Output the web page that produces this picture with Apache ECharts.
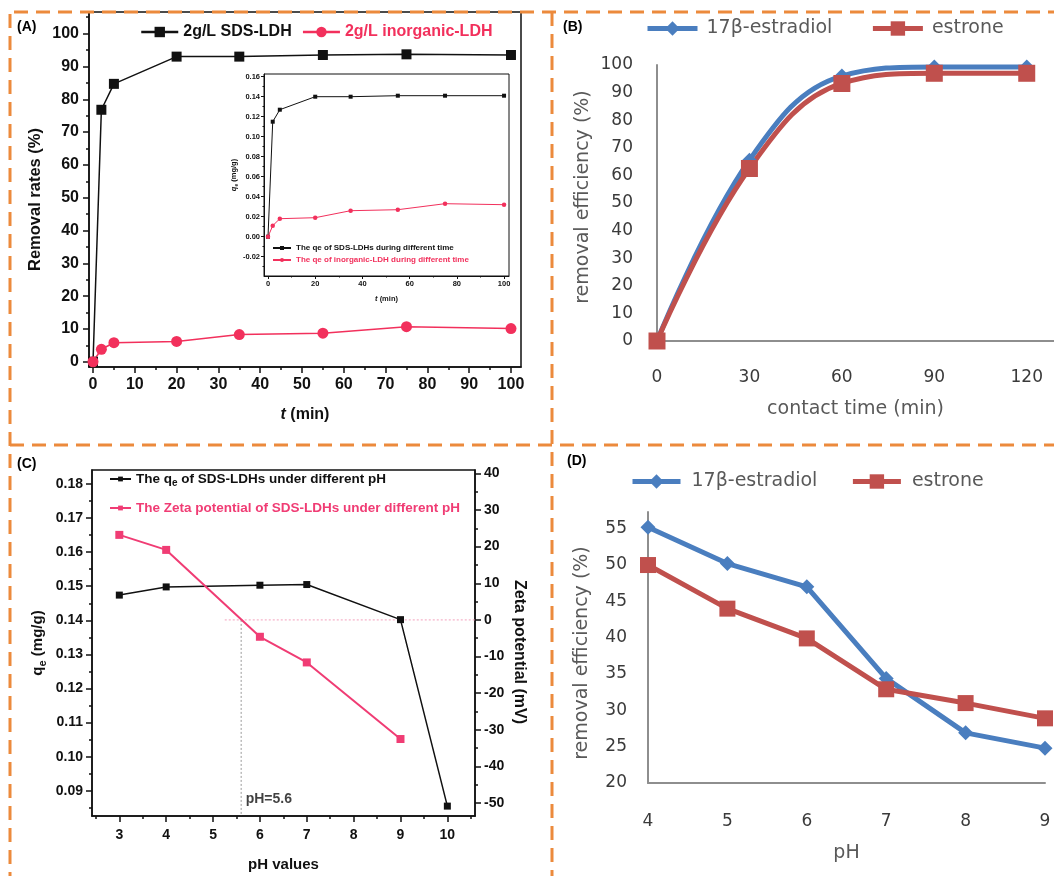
<!DOCTYPE html>
<html>
<head>
<meta charset="utf-8">
<title>LDH adsorption and estrogen removal</title>
<script src="https://cdn.jsdelivr.net/npm/echarts@6/dist/echarts.min.js"></script>
<style>
  html, body { margin: 0; padding: 0; background: #fff; }
  #main { width: 1054px; height: 876px; }
</style>
</head>
<body>
<div id="main"></div>
<script>
// (A) removal rate against time, inset qe against time
var timeA = [0, 2, 5, 20, 35, 55, 75, 100];
var removalSDS = [0, 76.8, 84.7, 93.0, 93.0, 93.5, 93.7, 93.5];
var removalInorg = [0, 3.8, 5.8, 6.2, 8.3, 8.7, 10.7, 10.1];
var qeSDS = [0, 0.115, 0.127, 0.140, 0.140, 0.141, 0.141, 0.141];
var qeInorg = [0, 0.011, 0.018, 0.019, 0.026, 0.027, 0.033, 0.032];

// (B) removal efficiency against contact time
var timeB = [0, 30, 60, 90, 120];
var estradiolB = [0, 65.5, 96, 99.3, 99.3];
var estroneB = [0, 62.5, 93.3, 97, 97];

// (C) qe and zeta potential against pH
var phC = [3, 4, 6, 7, 9, 10];
var qePH = [0.1474, 0.1498, 0.1503, 0.1505, 0.1402, 0.0855];
var phZeta = [3, 4, 6, 7, 9];
var zeta = [23.2, 19.1, -4.6, -11.6, -32.5];
var phMark = 5.6;

// (D) removal efficiency against pH
var phD = [4, 5, 6, 7, 8, 9];
var estradiolD = [55.2, 50.2, 47.0, 34.4, 26.9, 24.8];
var estroneD = [50.0, 44.0, 39.9, 32.9, 31.0, 28.9];

// tick labels
var ticksAx = [0, 10, 20, 30, 40, 50, 60, 70, 80, 90, 100];
var ticksAy = [0, 10, 20, 30, 40, 50, 60, 70, 80, 90, 100];
var ticksInX = [0, 20, 40, 60, 80, 100];
var ticksInY = [-0.02, 0, 0.02, 0.04, 0.06, 0.08, 0.10, 0.12, 0.14, 0.16];
var ticksBx = [0, 30, 60, 90, 120];
var ticksBy = [0, 10, 20, 30, 40, 50, 60, 70, 80, 90, 100];
var ticksCx = [3, 4, 5, 6, 7, 8, 9, 10];
var ticksCl = [0.09, 0.10, 0.11, 0.12, 0.13, 0.14, 0.15, 0.16, 0.17, 0.18];
var ticksCr = [-50, -40, -30, -20, -10, 0, 10, 20, 30, 40];
var ticksDx = [4, 5, 6, 7, 8, 9];
var ticksDy = [20, 25, 30, 35, 40, 45, 50, 55];

var INK = '#111111';
var PINK_A = '#f2305c';
var PINK_C = '#f03c74';
var BLUE = '#4a7ebf';
var RED = '#c0504d';
var GRAY_TXT = '#595959';
var ORANGE = '#ec8a3c';
var ARIAL = '"Liberation Sans", Arial, sans-serif';
var VERD = '"DejaVu Sans", Verdana, sans-serif';

function pairs(xs, ys) {
  return xs.map(function (x, i) { return [x, ys[i]]; });
}

function fix2(v) { return v.toFixed(2); }

// Origin style axis: black line, outward ticks, minor ticks, bold labels
function boxAxis(o) {
  return {
    type: 'value', gridIndex: o.grid, position: o.position,
    min: o.min, max: o.max, splitNumber: o.split,
    name: o.name, nameLocation: 'middle', nameGap: o.nameGap, nameRotate: o.nameRotate,
    nameTextStyle: {
      fontFamily: ARIAL, fontWeight: 'bold', fontSize: o.nameSize, color: INK,
      padding: o.namePad || 0, rich: o.rich
    },
    axisLine: { show: true, onZero: false, lineStyle: { color: INK, width: o.lw } },
    axisTick: { show: true, inside: false, length: o.tick, customValues: o.ticks, lineStyle: { color: INK, width: o.lw } },
    minorTick: { show: true, splitNumber: 2, length: o.tick / 2, lineStyle: { color: INK, width: o.lw } },
    axisLabel: {
      customValues: o.ticks, margin: o.margin, fontFamily: ARIAL, fontWeight: 'bold',
      fontSize: o.size, color: INK, formatter: o.fmt
    },
    splitLine: { show: false }
  };
}

// Excel style axis: grey line, no ticks
function sheetAxis(o) {
  return {
    type: 'value', gridIndex: o.grid, min: o.min, max: o.max,
    name: o.name, nameLocation: 'middle', nameGap: o.nameGap,
    nameTextStyle: { fontFamily: VERD, fontSize: 19, color: GRAY_TXT, padding: o.namePad || 0 },
    axisLine: { show: true, onZero: false, lineStyle: { color: '#8e8e8e', width: 2 } },
    axisTick: { show: false },
    axisLabel: { customValues: o.ticks, margin: o.margin, fontFamily: VERD, fontSize: 17, color: '#3a3a3a' },
    splitLine: { show: false }
  };
}

var richA = {
  i: { fontFamily: ARIAL, fontWeight: 'bold', fontStyle: 'italic', fontSize: 16, color: INK },
  n: { fontFamily: ARIAL, fontWeight: 'bold', fontSize: 16, color: INK }
};
var richIn = {
  i: { fontFamily: ARIAL, fontWeight: 'bold', fontStyle: 'italic', fontSize: 7.5, color: INK },
  s: { fontFamily: ARIAL, fontWeight: 'bold', fontSize: 5, color: INK, padding: [5, 0, 0, 0] },
  n: { fontFamily: ARIAL, fontWeight: 'bold', fontSize: 7.5, color: INK }
};
var richC = {
  n: { fontFamily: ARIAL, fontWeight: 'bold', fontSize: 15, color: INK },
  s: { fontFamily: ARIAL, fontWeight: 'bold', fontSize: 11, color: INK, padding: [10, 0, 0, 0] }
};
var richLeg = {
  n: { fontFamily: ARIAL, fontWeight: 'bold', fontSize: 13.5, color: INK },
  s: { fontFamily: ARIAL, fontWeight: 'bold', fontSize: 10, color: INK, padding: [9, 0, 0, 0] },
  p: { fontFamily: ARIAL, fontWeight: 'bold', fontSize: 13.5, color: PINK_C }
};

var gridBase = { containLabel: false, outerBoundsMode: 'none' };
function g(o) { return Object.assign({}, gridBase, o); }

var option = {
  animation: false,
  backgroundColor: '#ffffff',
  grid: [
    g({ left: 89, top: 12, width: 432, height: 355, show: true, borderColor: INK, borderWidth: 1.5, backgroundColor: '#fff' }),
    g({ left: 264, top: 74, width: 245, height: 202, show: true, borderColor: INK, borderWidth: 1, backgroundColor: '#fff' }),
    g({ left: 657, top: 65, width: 397, height: 276 }),
    g({ left: 92, top: 470, width: 383, height: 346, show: true, borderColor: INK, borderWidth: 1.5 }),
    g({ left: 648, top: 512, width: 397, height: 271 })
  ],
  xAxis: [
    boxAxis({ grid: 0, position: 'bottom', min: -0.96, max: 102.4, split: 10, ticks: ticksAx,
      name: '{i|t}{n| (min)}', rich: richA, nameSize: 16, nameGap: 40, lw: 1.5, tick: 6, margin: 10, size: 16 }),
    boxAxis({ grid: 1, position: 'bottom', min: -1.7, max: 102.1, split: 5, ticks: ticksInX,
      name: '{i|t}{n| (min)}', rich: richIn, nameSize: 7.5, nameGap: 19, lw: 1, tick: 3, margin: 4, size: 7.5 }),
    sheetAxis({ grid: 2, min: 0, max: 128.85, ticks: ticksBx, name: 'contact time (min)', nameGap: 59, margin: 28 }),
    boxAxis({ grid: 3, position: 'bottom', min: 2.417, max: 10.59, split: 8, ticks: ticksCx,
      name: 'pH values', nameSize: 15, nameGap: 41, lw: 1.5, tick: 6, margin: 12, size: 14 }),
    sheetAxis({ grid: 4, min: 4, max: 9, ticks: ticksDx, name: 'pH', nameGap: 61, margin: 30 })
  ],
  yAxis: [
    boxAxis({ grid: 0, position: 'left', min: -1.6, max: 106.6, split: 10, ticks: ticksAy,
      name: 'Removal rates (%)', nameSize: 16.5, nameGap: 45, namePad: [0, 20, 0, 0],
      lw: 1.5, tick: 6, margin: 10, size: 16 }),
    boxAxis({ grid: 1, position: 'left', min: -0.0393, max: 0.1627, split: 10, ticks: ticksInY,
      name: '{i|q}{s|e}{n| (mg/g)}', rich: richIn, nameSize: 7.5, nameGap: 24, lw: 1, tick: 3, margin: 4, size: 7.5, fmt: fix2 }),
    sheetAxis({ grid: 2, min: 0, max: 100, ticks: ticksBy, name: 'removal efficiency (%)', nameGap: 64,
      namePad: [0, 0, 0, 12], margin: 24 }),
    boxAxis({ grid: 3, position: 'left', min: 0.0826, max: 0.1841, split: 10, ticks: ticksCl,
      name: '{n|q}{s|e}{n| (mg/g)}', rich: richC, nameSize: 15, nameGap: 44, lw: 1.5, tick: 6, margin: 9, size: 14, fmt: fix2 }),
    boxAxis({ grid: 3, position: 'right', min: -53.5, max: 40.9, split: 9, ticks: ticksCr,
      name: 'Zeta potential (mV)', nameRotate: -90, nameSize: 16, nameGap: 36, namePad: [0, 0, 0, 18],
      lw: 1.5, tick: 6, margin: 9, size: 14 }),
    sheetAxis({ grid: 4, min: 20, max: 57.3, ticks: ticksDy, name: 'removal efficiency (%)', nameGap: 56,
      namePad: [0, 11, 0, 0], margin: 21 })
  ],
  legend: [
    { left: 140, top: 24, padding: 0, itemWidth: 37, itemHeight: 13, itemGap: 10,
      lineStyle: { width: 2.5 },
      textStyle: { fontFamily: ARIAL, fontWeight: 'bold', fontSize: 16 },
      data: [{ name: '2g/L SDS-LDH', textStyle: { color: INK } },
             { name: '2g/L inorganic-LDH', textStyle: { color: PINK_A } }] },
    { left: 272, top: 244, orient: 'vertical', padding: 0, itemWidth: 18, itemHeight: 5, itemGap: 4,
      textStyle: { fontFamily: ARIAL, fontWeight: 'bold', fontSize: 8 },
      data: [{ name: 'The qe of SDS-LDHs during different time', textStyle: { color: INK } },
             { name: 'The qe of inorganic-LDH during different time', textStyle: { color: PINK_A } }] },
    { left: 645, top: 19, padding: 0, itemWidth: 50, itemHeight: 18, itemGap: 38,
      lineStyle: { width: 5 },
      textStyle: { fontFamily: VERD, fontSize: 19, color: GRAY_TXT, padding: [0, 0, 0, 4] },
      data: ['17β-estradiol', 'estrone'] },
    { left: 109, top: 472, padding: 0, itemWidth: 21, itemHeight: 6,
      textStyle: { rich: richLeg },
      formatter: function () { return '{n|The q}{s|e}{n| of SDS-LDHs under different pH}'; },
      data: ['The qe of SDS-LDHs under different pH'] },
    { left: 109, top: 501, padding: 0, itemWidth: 21, itemHeight: 6,
      textStyle: { rich: richLeg },
      formatter: function (name) { return '{p|' + name + '}'; },
      data: ['The Zeta potential of SDS-LDHs under different pH'] },
    { left: 630, top: 472, padding: 0, itemWidth: 48, itemHeight: 18, itemGap: 33,
      lineStyle: { width: 5 },
      textStyle: { fontFamily: VERD, fontSize: 19, color: GRAY_TXT, padding: [0, 0, 0, 6] },
      data: ['17β-estradiol', 'estrone'] }
  ],
  series: [
    { name: '2g/L SDS-LDH', type: 'line', xAxisIndex: 0, yAxisIndex: 0, data: pairs(timeA, removalSDS),
      symbol: 'rect', symbolSize: 10, lineStyle: { color: INK, width: 1.5 }, itemStyle: { color: INK } },
    { name: '2g/L inorganic-LDH', type: 'line', xAxisIndex: 0, yAxisIndex: 0, data: pairs(timeA, removalInorg),
      symbol: 'circle', symbolSize: 11, lineStyle: { color: PINK_A, width: 1.5 }, itemStyle: { color: PINK_A } },
    { name: 'The qe of SDS-LDHs during different time', type: 'line', xAxisIndex: 1, yAxisIndex: 1,
      data: pairs(timeA, qeSDS), symbol: 'rect', symbolSize: 4,
      lineStyle: { color: INK, width: 1 }, itemStyle: { color: INK } },
    { name: 'The qe of inorganic-LDH during different time', type: 'line', xAxisIndex: 1, yAxisIndex: 1,
      data: pairs(timeA, qeInorg), symbol: 'circle', symbolSize: 4.5,
      lineStyle: { color: PINK_A, width: 1 }, itemStyle: { color: PINK_A } },

    { name: '17β-estradiol', type: 'line', xAxisIndex: 2, yAxisIndex: 2, data: pairs(timeB, estradiolB),
      smooth: 0.4, symbol: 'diamond', symbolSize: 15, lineStyle: { color: BLUE, width: 5 }, itemStyle: { color: BLUE } },
    { name: 'estrone', type: 'line', xAxisIndex: 2, yAxisIndex: 2, data: pairs(timeB, estroneB),
      smooth: 0.4, symbol: 'rect', symbolSize: 17, lineStyle: { color: RED, width: 5 }, itemStyle: { color: RED } },

    { name: 'pH guide', type: 'line', xAxisIndex: 3, yAxisIndex: 4, silent: true,
      data: [[phMark, 0], [phMark, -53.5]], symbol: 'none',
      lineStyle: { color: '#9a9a9a', width: 1, type: [2, 2] } },
    { name: 'zero guide', type: 'line', xAxisIndex: 3, yAxisIndex: 4, silent: true,
      data: [[5.25, 0], [10.59, 0]], symbol: 'none',
      lineStyle: { color: '#f3a0bc', width: 1, type: [2, 2] } },
    { name: 'pH label', type: 'scatter', xAxisIndex: 3, yAxisIndex: 4, silent: true,
      data: [[phMark, -48.8]], symbolSize: 1, itemStyle: { color: 'rgba(0,0,0,0)' },
      label: { show: true, position: 'right', distance: 4, formatter: 'pH=' + phMark,
        fontFamily: ARIAL, fontWeight: 'bold', fontSize: 14, color: INK } },
    { name: 'The qe of SDS-LDHs under different pH', type: 'line', xAxisIndex: 3, yAxisIndex: 3,
      data: pairs(phC, qePH), symbol: 'rect', symbolSize: 7,
      lineStyle: { color: INK, width: 1.5 }, itemStyle: { color: INK } },
    { name: 'The Zeta potential of SDS-LDHs under different pH', type: 'line', xAxisIndex: 3, yAxisIndex: 4,
      data: pairs(phZeta, zeta), symbol: 'rect', symbolSize: 8,
      lineStyle: { color: PINK_C, width: 2 }, itemStyle: { color: PINK_C } },

    { name: '17β-estradiol', type: 'line', xAxisIndex: 4, yAxisIndex: 5, data: pairs(phD, estradiolD),
      symbol: 'diamond', symbolSize: 15, lineStyle: { color: BLUE, width: 5 }, itemStyle: { color: BLUE } },
    { name: 'estrone', type: 'line', xAxisIndex: 4, yAxisIndex: 5, data: pairs(phD, estroneD),
      symbol: 'rect', symbolSize: 16, lineStyle: { color: RED, width: 5 }, itemStyle: { color: RED } }
  ],
  graphic: [
    { type: 'line', z: 100, shape: { x1: 14, y1: 12, x2: 1054, y2: 12 }, style: { stroke: ORANGE, lineWidth: 3, lineDash: [14, 8] } },
    { type: 'line', z: 100, shape: { x1: 10, y1: 14, x2: 10, y2: 876 }, style: { stroke: ORANGE, lineWidth: 3, lineDash: [14, 8] } },
    { type: 'line', z: 100, shape: { x1: 552, y1: 12, x2: 552, y2: 876 }, style: { stroke: ORANGE, lineWidth: 3, lineDash: [14, 8] } },
    { type: 'line', z: 100, shape: { x1: 10, y1: 445, x2: 1054, y2: 445 }, style: { stroke: ORANGE, lineWidth: 3, lineDash: [14, 8] } },
    { type: 'text', x: 17, y: 20, style: { text: '(A)', fontFamily: ARIAL, fontWeight: 'bold', fontSize: 14, fill: '#000' } },
    { type: 'text', x: 563, y: 20, style: { text: '(B)', fontFamily: ARIAL, fontWeight: 'bold', fontSize: 14, fill: '#000' } },
    { type: 'text', x: 17, y: 457, style: { text: '(C)', fontFamily: ARIAL, fontWeight: 'bold', fontSize: 14, fill: '#000' } },
    { type: 'text', x: 567, y: 454, style: { text: '(D)', fontFamily: ARIAL, fontWeight: 'bold', fontSize: 14, fill: '#000' } }
  ]
};

var chart = echarts.init(document.getElementById('main'));
chart.setOption(option);
</script>
</body>
</html>
